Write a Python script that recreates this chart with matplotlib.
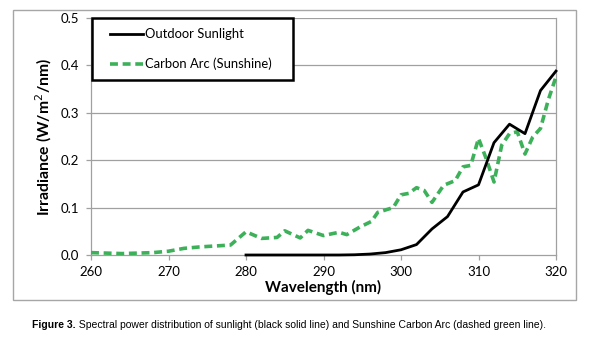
import matplotlib
matplotlib.use("Agg")
import matplotlib.pyplot as plt
from matplotlib.patches import Rectangle

# Data
sun_wl = [280, 282, 284, 286, 288, 290, 292, 294, 296, 298, 300, 302, 304, 306, 308, 310, 312, 314, 316, 318, 320]
sun_val = [0.0, 0.0, 0.0, 0.0, 0.0, 0.0, 0.0, 0.0005, 0.002, 0.005, 0.011, 0.022, 0.055, 0.081, 0.133, 0.148, 0.237, 0.276, 0.256, 0.347, 0.388]

arc_wl = [260, 262, 264, 266, 268, 270, 272, 274, 276, 278, 280, 282, 284, 285, 287, 288, 290, 292, 293, 294.7, 296.2, 297, 299, 300, 301, 302, 303, 304, 305.5, 307, 308, 309, 310, 311, 312, 313, 314, 315, 316, 317, 318, 319, 320]
arc_val = [0.005, 0.004, 0.003, 0.004, 0.005, 0.008, 0.014, 0.017, 0.019, 0.021, 0.049, 0.035, 0.037, 0.051, 0.036, 0.052, 0.041, 0.048, 0.043, 0.059, 0.071, 0.090, 0.100, 0.127, 0.130, 0.142, 0.136, 0.111, 0.147, 0.157, 0.186, 0.189, 0.246, 0.203, 0.154, 0.232, 0.256, 0.260, 0.213, 0.249, 0.267, 0.327, 0.376]

x_ticks = [260, 270, 280, 290, 300, 310, 320]
y_ticks = [0.0, 0.1, 0.2, 0.3, 0.4, 0.5]

series_names = ["Outdoor Sunlight", "Carbon Arc (Sunshine)"]
x_label = "Wavelength (nm)"
y_label = "Irradiance (W/m$^2$/nm)"
caption_bold = "Figure 3."
caption_rest = " Spectral power distribution of sunlight (black solid line) and Sunshine Carbon Arc (dashed green line)."

W, H = 597, 348
fig = plt.figure(figsize=(W / 100, H / 100), dpi=100)
fig.patch.set_facecolor("white")

font = ["Lato", "DejaVu Sans"]

# outer chart border
fig.patches.append(Rectangle((13 / W, 1 - 300 / H), (576 - 13) / W, (300 - 10) / H,
                             transform=fig.transFigure, fill=False, edgecolor="#a6a6a6", linewidth=1.0))

ax = fig.add_axes([91 / W, 1 - 255 / H, (556 - 91) / W, (255 - 18) / H])
ax.set_xlim(260, 320)
ax.set_ylim(0, 0.5)

for y in y_ticks[1:]:
    ax.axhline(y, color="#a0a0a0", linewidth=0.9, zorder=0)

green = "#3DB159"
ax.plot(arc_wl, arc_val, color=green, linewidth=2.6, linestyle=(0, (2.2, 1.3)), zorder=3, clip_on=False)
ax.plot(sun_wl, sun_val, color="black", linewidth=2.0, zorder=4, clip_on=False)

ax.spines["top"].set_visible(False)
for s in ["right", "left", "bottom"]:
    ax.spines[s].set_color("#a0a0a0")
    ax.spines[s].set_linewidth(0.9)

ax.set_xticks(x_ticks)
ax.set_xticklabels([str(v) for v in x_ticks], fontfamily=font, fontsize=9.5)
ax.set_yticks(y_ticks)
ax.set_yticklabels([f"{v:.1f}" for v in y_ticks], fontfamily=font, fontsize=9.5)
ax.tick_params(axis="both", direction="out", length=3.6, color="#a0a0a0", width=0.9)
ax.tick_params(axis="x", pad=4)
ax.tick_params(axis="y", pad=5)

ax.set_xlabel(x_label, fontfamily=font, fontsize=11, fontweight="bold", labelpad=2)
ax.set_ylabel(y_label, fontfamily=font, fontsize=11.3, fontweight="bold", labelpad=5)

# legend box
lx0, ly0, lx1, ly1 = 92, 18, 293, 80
fig.patches.append(Rectangle((lx0 / W, 1 - ly1 / H), (lx1 - lx0) / W, (ly1 - ly0) / H,
                             transform=fig.transFigure, fill=True, facecolor="white",
                             edgecolor="black", linewidth=1.8, zorder=10))
fig.lines.append(plt.Line2D([110 / W, 143 / W], [1 - 34 / H, 1 - 34 / H], transform=fig.transFigure,
                            color="black", linewidth=2.0, zorder=11))
fig.lines.append(plt.Line2D([110 / W, 143 / W], [1 - 64 / H, 1 - 64 / H], transform=fig.transFigure,
                            color=green, linewidth=2.6, linestyle=(0, (2.2, 1.3)), zorder=11))
fig.text(145 / W, 1 - 34 / H, series_names[0], fontfamily=font, fontsize=9.4, va="center", ha="left", zorder=12)
fig.text(145 / W, 1 - 64 / H, series_names[1], fontfamily=font, fontsize=9.4, va="center", ha="left", zorder=12)

# caption
t1 = fig.text(32 / W, 1 - 325 / H, caption_bold, fontfamily=["Liberation Sans"], fontsize=7.45,
              fontweight="bold", va="center", ha="left")
fig.canvas.draw()
bb = t1.get_window_extent()
fig.text(bb.x1 / W, 1 - 325 / H, caption_rest, fontfamily=["Liberation Sans"], fontsize=7.45,
         va="center", ha="left")

fig.savefig("out.png", dpi=100, facecolor="white")
